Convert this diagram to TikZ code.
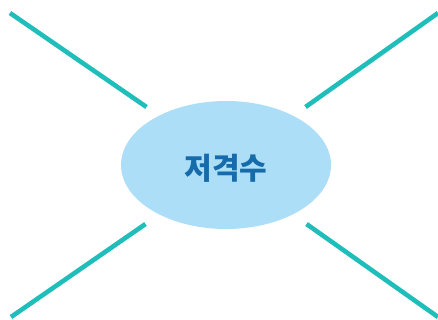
\documentclass[tikz,border=0pt]{standalone}
\usepackage{fontspec}
\usetikzlibrary{shapes.geometric}
\newfontfamily\krfont{Noto Sans CJK KR}
\definecolor{linecol}{RGB}{32,190,186}
\definecolor{fillcol}{RGB}{173,222,248}
\definecolor{textcol}{RGB}{22,108,170}
\begin{document}
\begin{tikzpicture}[x=1pt,y=-1pt,
  spoke/.style={draw=linecol,line width=4.6pt},
  hub/.style={ellipse,fill=fillcol,minimum width=210pt,minimum height=128pt,inner sep=0pt},
  hubtext/.style={inner sep=0pt,text=textcol,font=\krfont\bfseries\fontsize{30}{34}\selectfont}]
\useasboundingbox (0,0) rectangle (438,320);
\node[hub] (c) at (226,165) {};
\node[hubtext] (t) at (226,168.5) {저격수};
\coordinate (tl1) at (10,13);
\coordinate (tl2) at (146.5,107);
\coordinate (tr1) at (438,13);
\coordinate (tr2) at (305.5,107);
\coordinate (bl1) at (145.5,224);
\coordinate (bl2) at (11,317);
\coordinate (br1) at (306.5,224);
\coordinate (br2) at (438,317);
\draw[spoke] (tl1) -- (tl2);
\draw[spoke] (tr1) -- (tr2);
\draw[spoke] (bl1) -- (bl2);
\draw[spoke] (br1) -- (br2);
\end{tikzpicture}
\end{document}
